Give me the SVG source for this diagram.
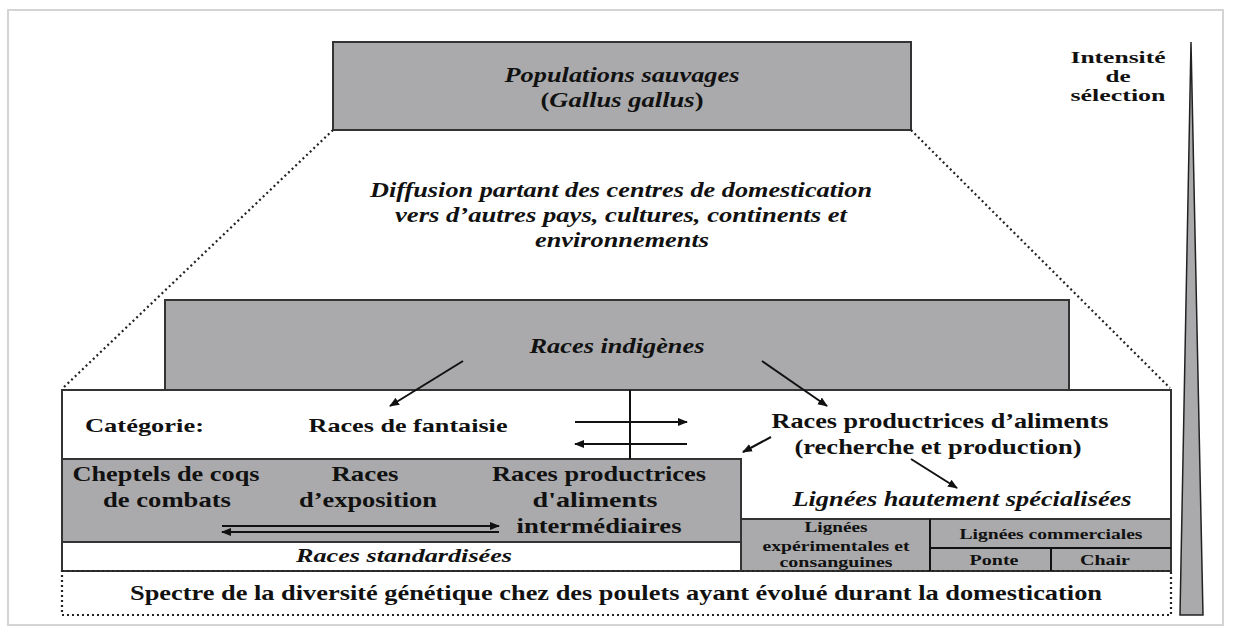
<svg xmlns="http://www.w3.org/2000/svg" width="1238" height="636" viewBox="0 0 1238 636">
<defs>
<style>
.t{font-family:"Liberation Serif","Times New Roman",serif;font-weight:bold;fill:#111;text-anchor:middle}
.s{text-anchor:start}
.i{font-style:italic}
.g{fill:#aaaaac;stroke:#333;stroke-width:2}
.w{fill:#fff;stroke:#333;stroke-width:2}
.ln{stroke:#111;stroke-width:2;fill:none}
.dot{stroke:#222;stroke-width:2.2;fill:none;stroke-dasharray:2 3}
</style>
<marker id="ah" viewBox="0 0 10 10" refX="9" refY="5" markerWidth="5" markerHeight="5" orient="auto-start-reverse" markerUnits="strokeWidth">
<path d="M0,1 L10,5 L0,9 z" fill="#111"/>
</marker>
</defs>
<rect x="0" y="0" width="1238" height="636" fill="#fff"/>
<rect x="8" y="10" width="1215" height="615" fill="#fff" stroke="#d4d4d4" stroke-width="2"/>

<g id="populations">
<rect class="g" x="333" y="42" width="578" height="88"/>
<text class="t i" x="622" y="82" font-size="22" textLength="235" lengthAdjust="spacingAndGlyphs">Populations sauvages</text>
<text class="t" x="622" y="107" font-size="22" textLength="163" lengthAdjust="spacingAndGlyphs">(<tspan class="i">Gallus gallus</tspan>)</text>
</g>

<g id="diffusion">
<text class="t i" x="621" y="197" font-size="21" textLength="502" lengthAdjust="spacingAndGlyphs">Diffusion partant des centres de domestication</text>
<text class="t i" x="621" y="222" font-size="21" textLength="452" lengthAdjust="spacingAndGlyphs">vers d’autres pays, cultures, continents et</text>
<text class="t i" x="622" y="247" font-size="21" textLength="174" lengthAdjust="spacingAndGlyphs">environnements</text>
</g>

<g id="intensite">
<polygon points="1191,42 1203,615 1180,615" fill="#aaaaac" stroke="#222" stroke-width="1.5"/>
<text class="t" x="1118" y="63" font-size="16" textLength="95" lengthAdjust="spacingAndGlyphs">Intensité</text>
<text class="t" x="1118" y="82" font-size="16" textLength="25" lengthAdjust="spacingAndGlyphs">de</text>
<text class="t" x="1118" y="101" font-size="16" textLength="95" lengthAdjust="spacingAndGlyphs">sélection</text>
</g>

<g id="indigenes">
<rect class="g" x="165" y="300" width="904" height="90"/>
<text class="t i" x="617" y="353" font-size="21" textLength="175" lengthAdjust="spacingAndGlyphs">Races indigènes</text>
</g>

<g id="categorie">
<rect class="w" x="62" y="390" width="1109" height="181"/>
<text class="t s" x="85" y="432" font-size="19" textLength="119" lengthAdjust="spacingAndGlyphs">Catégorie:</text>
<text class="t" x="408" y="432" font-size="19" textLength="199" lengthAdjust="spacingAndGlyphs">Races de fantaisie</text>
<text class="t" x="940" y="428" font-size="21" textLength="337" lengthAdjust="spacingAndGlyphs">Races productrices d’aliments</text>
<text class="t" x="938" y="454" font-size="21" textLength="287" lengthAdjust="spacingAndGlyphs">(recherche et production)</text>
<text class="t i" x="962" y="506" font-size="21" textLength="339" lengthAdjust="spacingAndGlyphs">Lignées hautement spécialisées</text>
</g>

<g id="standardisees">
<rect class="g" x="62" y="459" width="679" height="83"/>
<text class="t" x="166" y="481" font-size="21" textLength="187" lengthAdjust="spacingAndGlyphs">Cheptels de coqs</text>
<text class="t" x="167" y="507" font-size="21" textLength="128" lengthAdjust="spacingAndGlyphs">de combats</text>
<text class="t" x="365" y="481" font-size="21" textLength="67" lengthAdjust="spacingAndGlyphs">Races</text>
<text class="t" x="368" y="507" font-size="21" textLength="138" lengthAdjust="spacingAndGlyphs">d’exposition</text>
<text class="t" x="599" y="481" font-size="21" textLength="214" lengthAdjust="spacingAndGlyphs">Races productrices</text>
<text class="t" x="595" y="507" font-size="21" textLength="125" lengthAdjust="spacingAndGlyphs">d'aliments</text>
<text class="t" x="599" y="533" font-size="21" textLength="165" lengthAdjust="spacingAndGlyphs">intermédiaires</text>
<rect class="w" x="62" y="542" width="679" height="29"/>
<text class="t i" x="404" y="562" font-size="19" textLength="216" lengthAdjust="spacingAndGlyphs">Races standardisées</text>
</g>

<g id="lignees">
<rect class="g" x="741" y="519" width="430" height="52"/>
<line class="ln" x1="930" y1="519" x2="930" y2="571"/>
<line class="ln" x1="930" y1="548" x2="1171" y2="548"/>
<line class="ln" x1="1051" y1="548" x2="1051" y2="571"/>
<text class="t" x="836" y="532" font-size="15" textLength="63" lengthAdjust="spacingAndGlyphs">Lignées</text>
<text class="t" x="836" y="551" font-size="15" textLength="147" lengthAdjust="spacingAndGlyphs">expérimentales et</text>
<text class="t" x="836" y="567" font-size="15" textLength="113" lengthAdjust="spacingAndGlyphs">consanguines</text>
<text class="t" x="1051" y="539" font-size="15" textLength="183" lengthAdjust="spacingAndGlyphs">Lignées commerciales</text>
<text class="t" x="994" y="565" font-size="15" textLength="49" lengthAdjust="spacingAndGlyphs">Ponte</text>
<text class="t" x="1105" y="565" font-size="15" textLength="50" lengthAdjust="spacingAndGlyphs">Chair</text>
</g>

<g id="spectre">
<rect class="dot" x="62" y="571" width="1109" height="44"/>
<text class="t" x="616" y="600" font-size="21" textLength="972" lengthAdjust="spacingAndGlyphs">Spectre de la diversité génétique chez des poulets ayant évolué durant la domestication</text>
</g>

<g id="connectors">
<line class="dot" x1="333" y1="130" x2="63" y2="388"/>
<line class="dot" x1="911" y1="130" x2="1170" y2="388"/>
<line class="ln" x1="630" y1="390" x2="630" y2="459" stroke-width="1.5"/>
<line class="ln" x1="575" y1="422" x2="687" y2="422" marker-end="url(#ah)"/>
<line class="ln" x1="687" y1="444" x2="575" y2="444" marker-end="url(#ah)"/>
<line class="ln" x1="463" y1="361" x2="390" y2="406" marker-end="url(#ah)"/>
<line class="ln" x1="762" y1="361" x2="827" y2="406" marker-end="url(#ah)"/>
<line class="ln" x1="771" y1="437" x2="743" y2="452" marker-end="url(#ah)"/>
<line class="ln" x1="911" y1="459" x2="957" y2="488" marker-end="url(#ah)"/>
<line class="ln" x1="222" y1="526" x2="499" y2="526" marker-end="url(#ah)"/>
<line class="ln" x1="499" y1="532" x2="222" y2="532" marker-end="url(#ah)"/>
</g>
</svg>
